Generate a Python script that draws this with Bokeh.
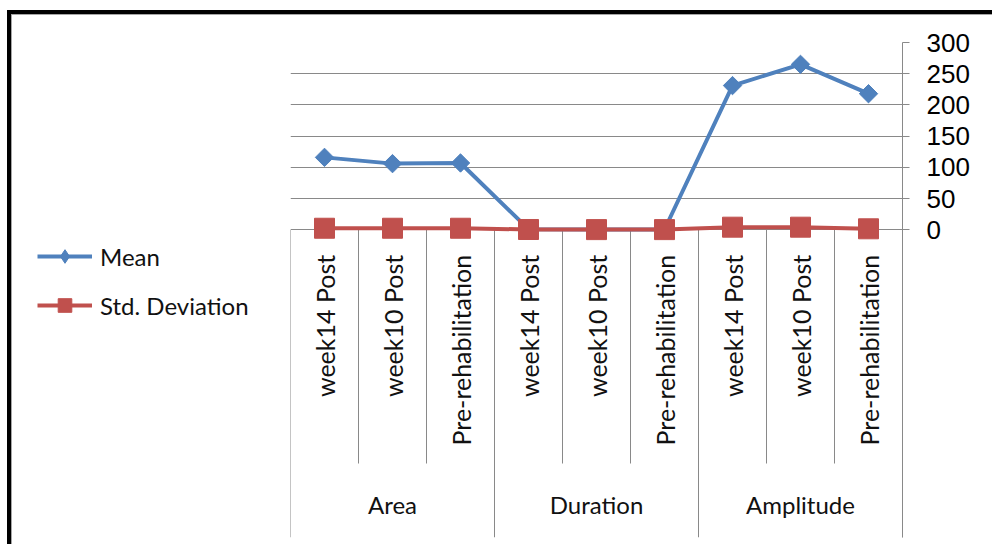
import math
from bokeh.plotting import figure
from bokeh.layouts import row
from bokeh.models import (FactorRange, Range1d, FixedTicker, Legend, LegendItem,
                          InlineStyleSheet)
from bokeh.core.properties import value
from bokeh.embed import file_html
from bokeh.resources import INLINE

# ---------------- data ----------------
groups = ["Area", "Duration", "Amplitude"]
stages = ["week14 Post", "week10 Post", "Pre-rehabilitation"]
mean_values = [116, 106, 107, 1, 0.5, 0.5, 231, 265, 218]
std_values = [2.5, 2.5, 2.5, 0.5, 0.3, 0.3, 4.2, 4.2, 1.6]
y_ticks = [0, 50, 100, 150, 200, 250, 300]
series_names = ["Mean", "Std. Deviation"]

factors = [(g, s) for g in groups for s in stages]

# ---------------- layout constants ----------------
W, H = 992, 544
FRAME_L, FRAME_R, FRAME_T, FRAME_B = 290, 902, 42, 537
ZERO_PX = 229.3
SUB_SEP_BOTTOM_PX = 463
YMAX = 300
units_per_px = YMAX / (ZERO_PX - FRAME_T)
y_start = YMAX - (FRAME_B - FRAME_T) * units_per_px
sub_bottom = YMAX - (SUB_SEP_BOTTOM_PX - FRAME_T) * units_per_px

BLUE = "#4F81BD"
RED = "#C0504D"
GRID = "#898989"
FONT = "Lato"

# ---------------- main chart ----------------
p = figure(width=W - FRAME_L, height=H,
           x_range=FactorRange(*factors, range_padding=0, group_padding=0,
                               factor_padding=0, subgroup_padding=0),
           y_range=Range1d(y_start, YMAX),
           toolbar_location=None, output_backend="svg",
           x_axis_location=None, y_axis_location="right", title=None,
           min_border_left=0, min_border_right=W - FRAME_R,
           min_border_top=FRAME_T, min_border_bottom=H - FRAME_B)
p.outline_line_color = None
p.background_fill_color = "white"
p.border_fill_color = "white"

p.xgrid.visible = False
p.ygrid.ticker = FixedTicker(ticks=y_ticks)
p.ygrid.grid_line_color = GRID
p.ygrid.grid_line_width = 1

ax = p.yaxis[0]
ax.ticker = FixedTicker(ticks=y_ticks)
ax.major_tick_out = 7
ax.major_tick_in = 0
ax.minor_tick_out = 0
ax.minor_tick_in = 0
ax.axis_line_color = GRID
ax.major_tick_line_color = GRID
ax.major_label_text_font = "Liberation Sans"
ax.major_label_text_font_size = "26px"
ax.major_label_text_color = "#000000"
ax.major_label_standoff = 17

# category separators
n = len(factors)
sep_x = list(range(n + 1))
sep_y1 = [y_start if i % len(stages) == 0 else sub_bottom for i in sep_x]
p.segment(x0=sep_x, y0=[0] * len(sep_x), x1=sep_x, y1=sep_y1,
          line_color=GRID, line_width=1)

# category labels (rotated)
p.text(x=factors, y=[0] * n, text=[s for g, s in factors], angle=math.pi / 2,
       text_align="right", text_baseline="middle", y_offset=25,
       text_font=value(FONT), text_font_size="25px", text_color="#111111")

# group labels
p.text(x=[(g, stages[1]) for g in groups], y=[0] * len(groups), text=groups,
       text_align="center", text_baseline="middle", y_offset=275,
       text_font=value(FONT), text_font_size="24px", text_color="#111111")

# series
p.line(x=factors, y=mean_values, line_color=BLUE, line_width=4)
p.scatter(x=factors, y=mean_values, marker="square", angle=math.pi / 4,
          size=13, fill_color=BLUE, line_color=BLUE)
p.line(x=factors, y=std_values, line_color=RED, line_width=4)
p.scatter(x=factors, y=std_values, marker="square", size=20,
          fill_color=RED, line_color=RED)

# ---------------- legend panel (left) ----------------
lp = figure(width=FRAME_L, height=H, x_range=Range1d(0, 1), y_range=Range1d(0, 1),
            toolbar_location=None, output_backend="svg", title=None,
            x_axis_location=None, y_axis_location=None,
            min_border_left=0, min_border_right=0,
            min_border_top=0, min_border_bottom=0)
lp.outline_line_color = None
lp.grid.visible = False
lp.background_fill_color = "white"
lp.border_fill_color = "white"

idx = list(range(n))
ll1 = lp.line(x=idx, y=mean_values, line_color=BLUE, line_width=4, visible=False)
lm1 = lp.scatter(x=idx, y=mean_values, marker="diamond", size=20,
                 fill_color=BLUE, line_color=BLUE, visible=False)
ll2 = lp.line(x=idx, y=std_values, line_color=RED, line_width=4, visible=False)
lm2 = lp.scatter(x=idx, y=std_values, marker="square", size=20,
                 fill_color=RED, line_color=RED, visible=False)

GLYPH_H = 34
legend = Legend(items=[LegendItem(label=series_names[0], renderers=[ll1, lm1]),
                       LegendItem(label=series_names[1], renderers=[ll2, lm2])],
                location=(37, H - 329))
legend.padding = 0
legend.margin = 0
legend.border_line_color = None
legend.background_fill_alpha = 0
legend.inactive_fill_alpha = 0
legend.glyph_width = 55
legend.glyph_height = GLYPH_H
legend.label_height = GLYPH_H
legend.spacing = 49 - GLYPH_H
legend.label_standoff = 8
legend.label_text_font = FONT
legend.label_text_font_size = "24px"
legend.label_text_color = "#111111"
legend.label_text_baseline = "middle"
lp.add_layout(legend, "center")

# outer chart border (CSS overlays)
lp.stylesheets = [InlineStyleSheet(css="""
:host::after {
  content: ""; position: absolute; left: 7px; top: 10px;
  width: calc(100% - 7px); height: calc(100% - 10px); box-sizing: border-box;
  border-left: 4px solid #000; border-top: 4px solid #000;
  box-shadow: inset 1px 1px 0 #a6a6a6; pointer-events: none; z-index: 10;
}
""")]
p.stylesheets = [InlineStyleSheet(css="""
:host::after {
  content: ""; position: absolute; left: 0px; top: 10px;
  width: 100%; height: calc(100% - 10px); box-sizing: border-box;
  border-top: 4px solid #000;
  box-shadow: inset 0 1px 0 #a6a6a6; pointer-events: none; z-index: 10;
}
""")]

layout = row(lp, p, spacing=0)
open("out.html", "w").write(file_html(layout, INLINE))
